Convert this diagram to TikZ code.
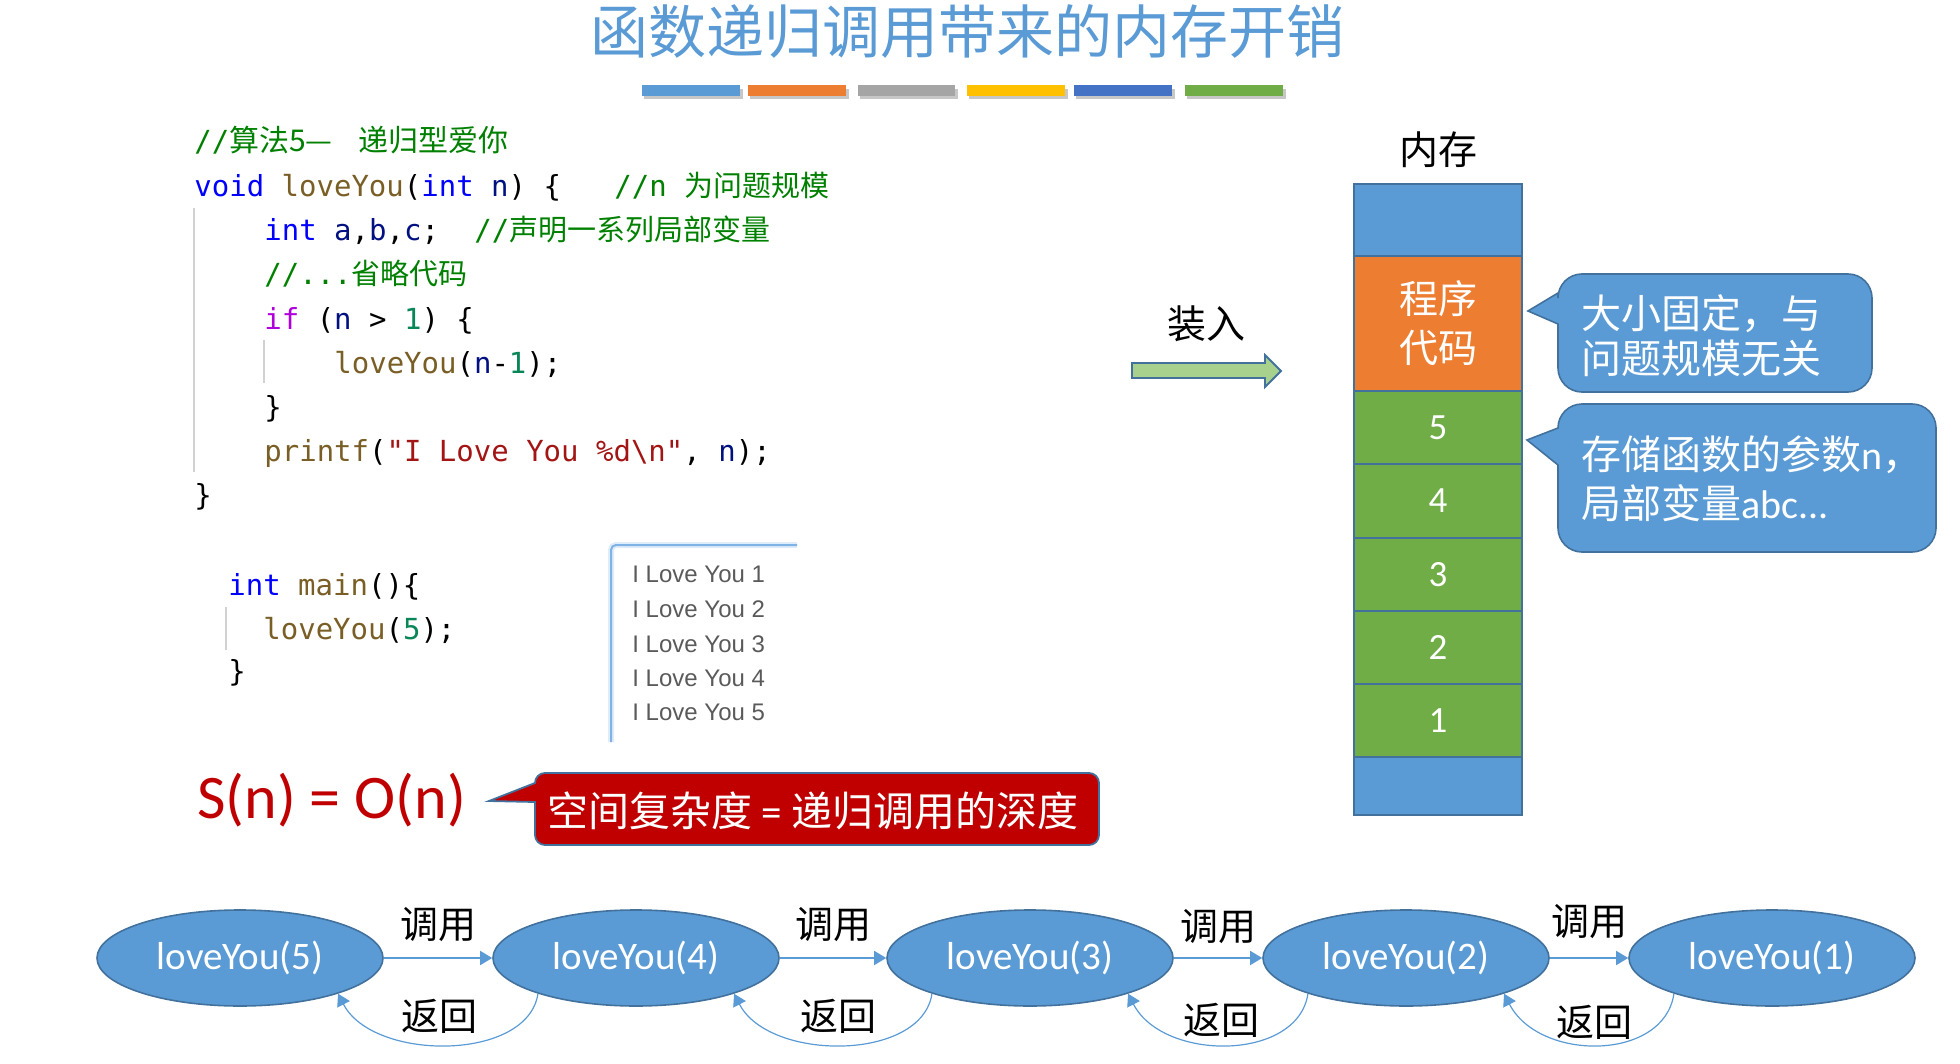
\documentclass[tikz,border=0pt]{standalone}
\usepackage{fontspec}
\setmainfont{Carlito}
\setmonofont{DejaVu Sans Mono}
\newfontfamily\cjk{Noto Sans CJK SC}
\newfontfamily\arialf{Liberation Sans}
\usetikzlibrary{arrows.meta,shapes.geometric}
\definecolor{mblue}{HTML}{5B9BD5}
\definecolor{morange}{HTML}{ED7D31}
\definecolor{mgray}{HTML}{A5A5A5}
\definecolor{myellow}{HTML}{FFC000}
\definecolor{mdblue}{HTML}{4472C4}
\definecolor{mgreen}{HTML}{70AD47}
\definecolor{mborder}{HTML}{41719C}
\definecolor{ckw}{HTML}{0000FF}
\definecolor{cfn}{HTML}{795E26}
\definecolor{cvar}{HTML}{001080}
\definecolor{cctl}{HTML}{AF00DB}
\definecolor{cnum}{HTML}{098658}
\definecolor{cstr}{HTML}{A31515}
\definecolor{ccmt}{HTML}{008000}
\definecolor{dred}{HTML}{C00000}
\definecolor{agreen}{HTML}{A9D18E}
\definecolor{outgray}{HTML}{5A5A5A}
\definecolor{outblue}{HTML}{7FB3E6}
\tikzset{
  codeline/.style={anchor=base west, inner sep=0pt, font=\ttfamily\fontsize{14.5pt}{14.5pt}\selectfont},
  guide/.style={draw=black!18, line width=0.6pt},
  bar/.style={fill=#1},
  barshadow/.style={fill=black!22},
  outline/.style={anchor=base west, inner sep=0pt, text=outgray, font=\arialf\fontsize{12pt}{12pt}\selectfont},
  seg/.style={draw=mborder, line width=1pt, minimum width=84pt, inner sep=0pt, text=white, font=\fontsize{18.5pt}{18.5pt}\selectfont},
  bubble/.style={fill=mblue, draw=mborder, line width=0.8pt},
  bubbletext/.style={anchor=west, inner sep=0pt, text=white, align=left},
  ell/.style={ellipse, fill=mblue, draw=mborder, line width=0.8pt, minimum width=143pt, minimum height=48pt, inner sep=0pt, text=white, font=\fontsize{19.5pt}{19.5pt}\selectfont},
  call/.style={draw=mblue, line width=0.8pt, -{Triangle[length=6pt,width=7pt]}},
  ret/.style={draw=mblue, line width=0.6pt, -{Triangle[length=6pt,width=7pt]}},
  lbl/.style={inner sep=0pt, text=black, font=\cjk\fontsize{19pt}{19pt}\selectfont},
}
\begin{document}
\begin{tikzpicture}[x=0.5pt,y=-0.5pt]
\useasboundingbox (0,0) rectangle (1960,1064);
% title
\node[inner sep=0pt, text=mblue, font=\cjk\fontsize{29pt}{29pt}\selectfont] (title) at (967,31) {函数递归调用带来的内存开销};
% colour bars
\foreach \xa/\xb/\c in {642/740/mblue, 748/846/morange, 858/955/mgray, 967/1065/myellow, 1074/1172/mdblue, 1185/1283/mgreen}{
  \fill[barshadow] (\xa+2,89) rectangle (\xb+3,99);
  \fill[bar=\c] (\xa,85) rectangle (\xb,96);
}
% code
\draw[guide] (194,208) -- (194,472);
\draw[guide] (264,340) -- (264,383);
\node[codeline, text=ccmt] (l1) at (194,152) {//{\cjk\fontsize{15pt}{15pt}\selectfont 算法5—}};
\node[codeline, text=ccmt] (l1b) at (358,152) {\cjk\fontsize{15pt}{15pt}\selectfont 递归型爱你};
\node[codeline] (l2) at (194,197) {\color{ckw}void \color{cfn}loveYou\color{black}(\color{ckw}int \color{cvar}n\color{black}) \{};
\node[codeline, text=ccmt] (c2) at (614,197) {//n {\cjk 为问题规模}};
\node[codeline] (l3) at (264,241) {\color{ckw}int \color{cvar}a\color{black},\color{cvar}b\color{black},\color{cvar}c\color{black};};
\node[codeline, text=ccmt] (c3) at (474,241) {//{\cjk 声明一系列局部变量}};
\node[codeline, text=ccmt] (l4) at (264,285) {//...{\cjk 省略代码}};
\node[codeline] (l5) at (264,329) {\color{cctl}if \color{black}(\color{cvar}n \color{black}> \color{cnum}1\color{black}) \{};
\node[codeline] (l6) at (334,373) {\color{cfn}loveYou\color{black}(\color{cvar}n\color{black}-\color{cnum}1\color{black});};
\node[codeline] (l7) at (264,417) {\}};
\node[codeline] (l8) at (264,461) {\color{cfn}printf\color{black}(\color{cstr}"I Love You \%d\textbackslash n"\color{black}, \color{cvar}n\color{black});};
\node[codeline] (l9) at (194,505) {\}};
\draw[guide] (226,607) -- (226,650);
\node[codeline] (m1) at (228,595) {\color{ckw}int \color{cfn}main\color{black}()\{};
\node[codeline] (m2) at (263,639) {\color{cfn}loveYou\color{black}(\color{cnum}5\color{black});};
\node[codeline] (m3) at (228,681) {\}};
% output window
\draw[outblue!25, line width=3pt, rounded corners=2.5pt] (611,742) -- (611,545) -- (797,545);
\draw[outblue, line width=1pt, rounded corners=2.5pt] (611,742) -- (611,545) -- (797,545);
\foreach \i/\yy in {1/582,2/617,3/652,4/686,5/720}{
  \node[outline] (o\i) at (632,\yy) {I Love You \i};
}
% memory
\node[inner sep=0pt, font=\cjk\fontsize{19.5pt}{19.5pt}\selectfont] (memlabel) at (1438,150) {内存};
\node[seg, fill=mblue, minimum height=36pt] (stop) at (1438,220) {};
\node[seg, fill=morange, minimum height=67.5pt, align=center, font=\cjk\fontsize{19.5pt}{24.5pt}\selectfont] (scode) at (1438,323.5) {程序\\代码};
\node[seg, fill=mgreen, minimum height=36.6pt] (s5) at (1438,427.75) {5};
\node[seg, fill=mgreen, minimum height=36.6pt] (s4) at (1438,501) {4};
\node[seg, fill=mgreen, minimum height=36.6pt] (s3) at (1438,574.25) {3};
\node[seg, fill=mgreen, minimum height=36.6pt] (s2) at (1438,647.5) {2};
\node[seg, fill=mgreen, minimum height=36.6pt] (s1) at (1438,720.75) {1};
\node[seg, fill=mblue, minimum height=29pt] (sbot) at (1438,786) {};
% load arrow
\node[inner sep=0pt, font=\cjk\fontsize{19.5pt}{19.5pt}\selectfont] (load) at (1206,324) {装入};
\draw[fill=agreen, draw=mborder, line width=0.9pt] (1132,363) -- (1265,363) -- (1265,355) -- (1281,371) -- (1265,387) -- (1265,378) -- (1132,378) -- cycle;
% callouts
\draw[bubble] (1558,324) [rounded corners=12pt] -- (1558,392) -- (1872,392) -- (1872,274) -- (1558,274) [sharp corners] -- (1558,293) -- (1528,311) -- cycle;
\node[bubbletext, font=\cjk\fontsize{20pt}{22.4pt}\selectfont] (b1) at (1581,336) {大小固定，与\\问题规模无关};
\draw[bubble] (1558,465) [rounded corners=12pt] -- (1558,552) -- (1936,552) -- (1936,404) -- (1558,404) [sharp corners] -- (1558,428) -- (1527,440) -- cycle;
\node[bubbletext, font=\fontsize{20pt}{24.5pt}\selectfont] (b2) at (1581,479) {{\cjk 存储函数的参数}n{\cjk ，}\\{\cjk 局部变量}abc...};
% space complexity
\node[anchor=base west, inner sep=0pt, text=dred, font=\fontsize{31pt}{31pt}\selectfont] (sn) at (197,818) {S(n) = O(n)};
\draw[fill=dred, draw=mborder, line width=0.9pt] (535,802) [rounded corners=5pt] -- (535,845) -- (1099,845) -- (1099,773) -- (535,773) [sharp corners] -- (535,783) -- (489,801) -- cycle;
\node[inner sep=0pt, text=white, font=\fontsize{20.5pt}{20.5pt}\selectfont] (sd) at (813,811) {{\cjk 空间复杂度} = {\cjk 递归调用的深度}};
% recursion chain
\node[ell] (e5) at (240,958) {loveYou(5)};
\node[ell] (e4) at (636,958) {loveYou(4)};
\node[ell] (e3) at (1030,958) {loveYou(3)};
\node[ell] (e2) at (1406,958) {loveYou(2)};
\node[ell] (e1) at (1772,958) {loveYou(1)};
\draw[call] (e5) -- node[lbl, midway, yshift=16.5pt] (u1) {调用} (e4);
\draw[call] (e4) -- node[lbl, midway, yshift=16.5pt] (u2) {调用} (e3);
\draw[call] (e3) -- node[lbl, midway, yshift=15.5pt] (u3) {调用} (e2);
\draw[call] (e2) -- node[lbl, midway, yshift=18pt] (u4) {调用} (e1);
\draw[ret] (e4.200) .. controls +(-10,68) and +(35,68) .. node[lbl, pos=0.5, yshift=14pt, xshift=-4pt] (r1) {返回} (e5.340);
\draw[ret] (e3.200) .. controls +(-10,68) and +(35,68) .. node[lbl, pos=0.5, yshift=14pt, xshift=-2pt] (r2) {返回} (e4.340);
\draw[ret] (e2.200) .. controls +(-10,68) and +(35,68) .. node[lbl, pos=0.5, yshift=12pt, xshift=-3pt] (r3) {返回} (e3.340);
\draw[ret] (e1.200) .. controls +(-10,68) and +(35,68) .. node[lbl, pos=0.5, yshift=11pt, xshift=-2pt] (r4) {返回} (e2.340);
\end{tikzpicture}
\end{document}
